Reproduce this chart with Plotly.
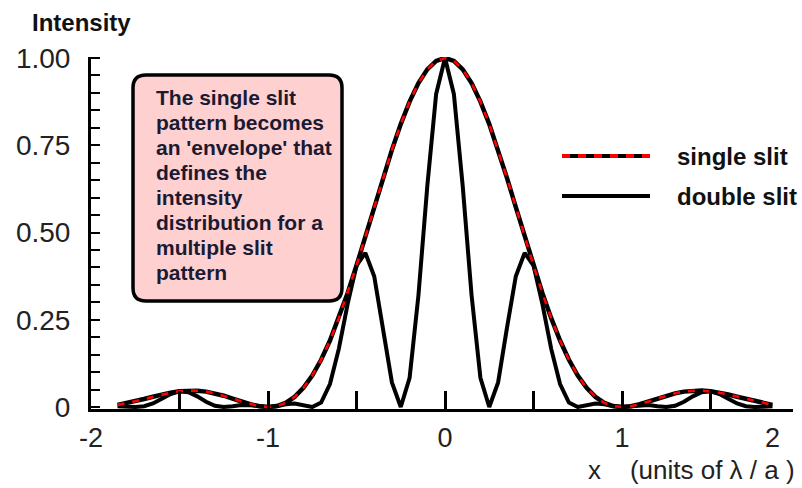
import plotly.graph_objects as go

# ---------------- data ----------------
x_pos = [-1.85, -1.8, -1.75, -1.7, -1.65, -1.6, -1.55, -1.5, -1.45, -1.4, -1.35, -1.3, -1.25,
         -1.2, -1.15, -1.1, -1.05, -1.0, -0.95, -0.9, -0.85, -0.8, -0.75, -0.7, -0.65, -0.6,
         -0.55, -0.5, -0.45, -0.4, -0.35, -0.3, -0.25, -0.2, -0.15, -0.1, -0.05, 0.0,
         0.05, 0.1, 0.15, 0.2, 0.25, 0.3, 0.35, 0.4, 0.45, 0.5, 0.55, 0.6, 0.65, 0.7, 0.75,
         0.8, 0.85, 0.9, 0.95, 1.0, 1.05, 1.1, 1.15, 1.2, 1.25, 1.3, 1.35, 1.4, 1.45, 1.5,
         1.55, 1.6, 1.65, 1.7, 1.75, 1.8, 1.85]

single_slit = [0.0061, 0.0108, 0.0165, 0.0229, 0.0295, 0.0358, 0.0411, 0.0450, 0.0470, 0.0468,
               0.0441, 0.0392, 0.0324, 0.0243, 0.0158, 0.0080, 0.0023, 0.0, 0.0027, 0.0119,
               0.0289, 0.0547, 0.0901, 0.1353, 0.1904, 0.2546, 0.3268, 0.4053, 0.4881, 0.5728,
               0.6567, 0.7368, 0.8106, 0.8751, 0.9281, 0.9675, 0.9918, 1.0,
               0.9918, 0.9675, 0.9281, 0.8751, 0.8106, 0.7368, 0.6567, 0.5728, 0.4881, 0.4053,
               0.3268, 0.2546, 0.1904, 0.1353, 0.0901, 0.0547, 0.0289, 0.0119, 0.0027, 0.0,
               0.0023, 0.0080, 0.0158, 0.0243, 0.0324, 0.0392, 0.0441, 0.0468, 0.0470, 0.0450,
               0.0411, 0.0358, 0.0295, 0.0229, 0.0165, 0.0108, 0.0061]

double_slit = [0.0021, 0.0010, 0.0, 0.0022, 0.0102, 0.0234, 0.0372, 0.0450, 0.0425, 0.0306,
               0.0152, 0.0037, 0.0, 0.0023, 0.0055, 0.0052, 0.0020, 0.0, 0.0024, 0.0078,
               0.0100, 0.0052, 0.0, 0.0129, 0.0658, 0.1666, 0.2956, 0.4053, 0.4415, 0.3749,
               0.2269, 0.0704, 0.0, 0.0836, 0.3207, 0.6332, 0.8971, 1.0,
               0.8971, 0.6332, 0.3207, 0.0836, 0.0, 0.0704, 0.2269, 0.3749, 0.4415, 0.4053,
               0.2956, 0.1666, 0.0658, 0.0129, 0.0, 0.0052, 0.0100, 0.0078, 0.0024, 0.0,
               0.0020, 0.0052, 0.0055, 0.0023, 0.0, 0.0037, 0.0152, 0.0306, 0.0425, 0.0450,
               0.0372, 0.0234, 0.0102, 0.0022, 0.0, 0.0010, 0.0021]

x_tick_vals = [-2, -1, 0, 1, 1.85]
x_tick_text = ["-2", "-1", "0", "1", "2"]
y_tick_vals = [0, 0.25, 0.5, 0.75, 1.0]
y_tick_text = ["0", "0.25", "0.50", "0.75", "1.00"]

series_names = ["single slit", "double slit"]
note_lines = ["The single slit", "pattern becomes", "an 'envelope' that", "defines the",
              "intensity", "distribution for a", "multiple slit", "pattern"]

# ---------------- layout geometry ----------------
W, H = 802, 488
L, R, T, B = 91, 9, 57, 79
PW, PH = W - L - R, H - T - B
FONT = "Arial, Liberation Sans, sans-serif"


def px(xp):
    return (xp - L) / PW


def py(yp):
    return (H - B - yp) / PH


fig = go.Figure()

fig.add_trace(go.Scatter(x=x_pos, y=double_slit, mode="lines", name=series_names[1],
                         line=dict(color="black", width=4), showlegend=False,
                         hoverinfo="skip"))
fig.add_trace(go.Scatter(x=x_pos, y=single_slit, mode="lines", name=series_names[0],
                         line=dict(color="black", width=4.5), showlegend=False,
                         hoverinfo="skip"))
fig.add_trace(go.Scatter(x=x_pos, y=single_slit, mode="lines", name=series_names[0],
                         line=dict(color="#ff0000", width=2.6, dash="7px,8px"),
                         showlegend=False, hoverinfo="skip"))
# carrier for the labelled overlay axis (no visible marks)
fig.add_trace(go.Scatter(x=[x_tick_vals[0]], y=[y_tick_vals[0]], xaxis="x2", mode="markers",
                         marker=dict(size=1, opacity=0), showlegend=False,
                         hoverinfo="skip"))

# rounded pink note box
x0, x1, y0, y1 = px(133), px(342), py(301), py(75)
rx, ry = 13 / PW, 13 / PH
path = (f"M{x0 + rx},{y0} L{x1 - rx},{y0} Q{x1},{y0} {x1},{y0 + ry} "
        f"L{x1},{y1 - ry} Q{x1},{y1} {x1 - rx},{y1} L{x0 + rx},{y1} "
        f"Q{x0},{y1} {x0},{y1 - ry} L{x0},{y0 + ry} Q{x0},{y0} {x0 + rx},{y0} Z")
shapes = [dict(type="path", xref="paper", yref="paper", path=path,
               fillcolor="#ffd0d0", line=dict(color="black", width=3.5), layer="above")]

# custom legend samples
shapes.append(dict(type="line", xref="paper", yref="paper", x0=px(562), x1=px(650),
                   y0=py(156), y1=py(156), line=dict(color="black", width=4)))
shapes.append(dict(type="line", xref="paper", yref="paper", x0=px(562), x1=px(650),
                   y0=py(156), y1=py(156), line=dict(color="#ff0000", width=4, dash="8px,8px")))
shapes.append(dict(type="line", xref="paper", yref="paper", x0=px(562), x1=px(650),
                   y0=py(196), y1=py(196), line=dict(color="black", width=4)))

annotations = []
for i, line_text in enumerate(note_lines):
    annotations.append(dict(xref="paper", yref="paper", x=px(154), y=py(97 + 25 * i),
                            xanchor="left", yanchor="middle", align="left", showarrow=False,
                            text=line_text,
                            font=dict(family=FONT, size=21, color="#1a1a33", weight="bold")))
annotations += [
    dict(xref="paper", yref="paper", x=px(675), y=py(156), xanchor="left", yanchor="middle",
         showarrow=False, text=series_names[0],
         font=dict(family=FONT, size=24, color="#111111", weight="bold")),
    dict(xref="paper", yref="paper", x=px(675), y=py(196), xanchor="left", yanchor="middle",
         showarrow=False, text=series_names[1],
         font=dict(family=FONT, size=24, color="#111111", weight="bold")),
    dict(xref="paper", yref="paper", x=px(30), y=py(23), xanchor="left", yanchor="middle",
         showarrow=False, text="Intensity",
         font=dict(family=FONT, size=24, color="#111111", weight="bold")),
    dict(xref="paper", yref="paper", x=px(797), y=py(470), xanchor="right", yanchor="middle",
         showarrow=False, text="x    (units of λ / a )",
         font=dict(family=FONT, size=26, color="#222222")),
]

fig.update_layout(
    width=W, height=H,
    margin=dict(l=L, r=R, t=T, b=B, pad=0),
    paper_bgcolor="white", plot_bgcolor="white",
    showlegend=False,
    shapes=shapes, annotations=annotations,
    xaxis=dict(range=[-2, 1.966], showgrid=False, zeroline=False,
               showline=True, linecolor="black", linewidth=3,
               tickmode="linear", tick0=0, dtick=0.5, ticks="inside", ticklen=18,
               tickwidth=2.5, tickcolor="black", showticklabels=False),
    xaxis2=dict(overlaying="x", anchor="y", side="bottom", range=[-2, 1.966],
                showgrid=False, zeroline=False, showline=False, ticks="",
                tickmode="array", tickvals=x_tick_vals, ticktext=x_tick_text,
                tickfont=dict(family=FONT, size=27, color="#222222"),
                ticklabelstandoff=10),
    yaxis=dict(range=[-0.0057, 1.0029], showgrid=False, zeroline=False,
               showline=True, linecolor="black", linewidth=3,
               tickmode="array", tickvals=y_tick_vals, ticktext=y_tick_text,
               ticks="inside", ticklen=9, tickwidth=2, tickcolor="black",
               tickfont=dict(family=FONT, size=28, color="#222222"),
               ticklabelstandoff=12,
               minor=dict(ticks="inside", ticklen=9, tickwidth=2, tickcolor="black",
                          tickmode="linear", tick0=0, dtick=0.05)),
)

fig.write_html("out.html")
